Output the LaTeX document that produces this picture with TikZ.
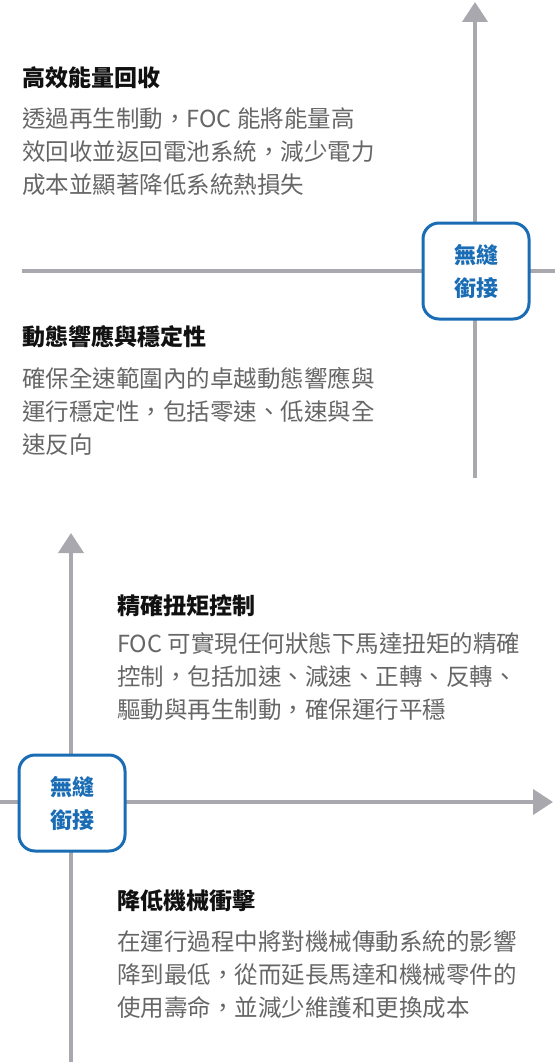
\documentclass[tikz,border=0pt]{standalone}
\usepackage{fontspec}
\setmainfont{Noto Sans CJK TC}
\usetikzlibrary{arrows.meta}
\definecolor{axisgray}{HTML}{A8A8AE}
\definecolor{bodygray}{HTML}{666666}
\definecolor{titleblack}{HTML}{111111}
\definecolor{boxblue}{HTML}{1A6DB5}
\tikzset{
  axis/.style={draw=axisgray, line width=4pt},
  axisarrow/.style={axis, -{Triangle[width=25pt,length=20pt]}},
  title/.style={anchor=west, inner sep=0pt, text=titleblack, font=\fontsize{23}{33}\selectfont\bfseries},
  body/.style={anchor=north west, inner sep=0pt, align=left, text=bodygray, font=\fontsize{23.5}{33}\selectfont},
  joinbox/.style={draw=boxblue, line width=3pt, fill=white, rounded corners=16pt,
    minimum width=106pt, minimum height=96pt, align=center, text=boxblue,
    font=\fontsize{22}{33}\selectfont\bfseries},
}
\begin{document}
\begin{tikzpicture}[x=1pt,y=-1pt]
\useasboundingbox (0,0) rectangle (555,1062);
% top section
\coordinate (topvb) at (475,478);
\coordinate (topvt) at (475,2);
\coordinate (tophl) at (22,271);
\coordinate (tophr) at (555,271);
\draw[axis] (tophl) -- (tophr);
\draw[axisarrow] (topvb) -- (topvt);
\node[joinbox] (box1) at (476,271) {無縫\\銜接};
\node[title] (t1) at (22,78) {高效能量回收};
\node[body] (b1) at (22,107) {透過再生制動，FOC 能將能量高\\效回收並返回電池系統，減少電力\\成本並顯著降低系統熱損失};
\node[title] (t2) at (22,337) {動態響應與穩定性};
\node[body] (b2) at (22,367) {確保全速範圍內的卓越動態響應與\\運行穩定性，包括零速、低速與全\\速反向};
% bottom section
\coordinate (botvb) at (71,1062);
\coordinate (botvt) at (71,533);
\coordinate (bothl) at (0,802);
\coordinate (bothr) at (553,802);
\draw[axisarrow] (botvb) -- (botvt);
\draw[axisarrow] (bothl) -- (bothr);
\node[joinbox] (box2) at (72,803) {無縫\\銜接};
\node[title] (t3) at (117,606) {精確扭矩控制};
\node[body] (b3) at (117,632) {FOC 可實現任何狀態下馬達扭矩的精確\\控制，包括加速、減速、正轉、反轉、\\驅動與再生制動，確保運行平穩};
\node[title] (t4) at (117,901) {降低機械衝擊};
\node[body] (b4) at (117,930) {在運行過程中將對機械傳動系統的影響\\降到最低，從而延長馬達和機械零件的\\使用壽命，並減少維護和更換成本};
\end{tikzpicture}
\end{document}
